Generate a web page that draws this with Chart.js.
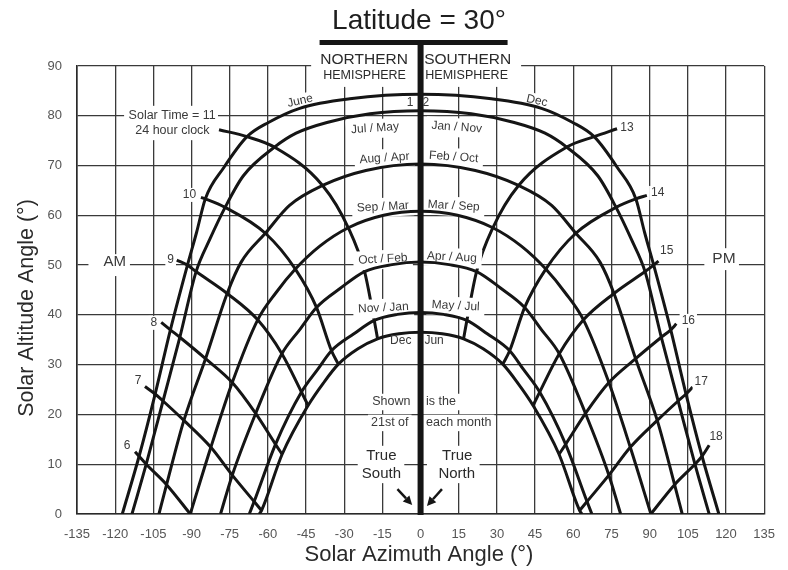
<!DOCTYPE html>
<html>
<head>
<meta charset="utf-8">
<script src="https://cdn.jsdelivr.net/npm/chart.js@4/dist/chart.umd.min.js"></script>
<style>
  html, body { margin: 0; padding: 0; background: #fff; }
  #wrap { width: 788px; height: 570px; position: relative; }
</style>
</head>
<body>
<div id="wrap"><canvas id="c"></canvas></div>
<script>
// Sun path diagram, latitude 30°, 21st day of each month.
// Azimuth in degrees from true south (negative = morning / east), altitude in degrees.

const titleText = 'Latitude = 30°';
const xTitle = 'Solar Azimuth Angle (°)';
const yTitle = 'Solar Altitude Angle (°)';

// ---- month paths (sunrise -> noon -> sunset) ----
const juneAz  = [-117.2, -110.6, -104.3, -98.3, -91.6, -88.0, -84.6, -77.3, -68.2, -59.6, -47.5, -27.8, 0, 27.8, 47.5, 59.6, 68.2, 77.3, 84.6, 88.0, 91.6, 98.3, 104.3, 110.6, 117.2];
const juneAlt = [0, 11.6, 24.1, 37.0, 50.0, 56.6, 63.3, 69.6, 75.8, 78.7, 81.5, 83.4, 84.3, 83.4, 81.5, 78.7, 75.8, 69.6, 63.3, 56.6, 50.0, 37.0, 24.1, 11.6, 0];

const julMayAz  = [-113.4, -107.8, -101.2, -94.6, -88.2, -82.8, -76.8, -69.7, -57.4, -48.9, -36.4, -19.9, 0, 19.9, 36.4, 48.9, 57.4, 69.7, 76.8, 82.8, 88.2, 94.6, 101.2, 107.8, 113.4];
const julMayAlt = [0, 10.0, 22.7, 35.5, 48.7, 55.2, 61.6, 67.9, 73.7, 76.5, 78.7, 80.4, 81.0, 80.4, 78.7, 76.5, 73.7, 67.9, 61.6, 55.2, 48.7, 35.5, 22.7, 10.0, 0];

const augAprAz  = [-102.8, -99.8, -93.0, -84.5, -76.0, -70.5, -61.0, -51.5, -38.5, -21.5, 0, 21.5, 38.5, 51.5, 61.0, 70.5, 76.0, 84.5, 93.0, 99.8, 102.8];
const augAprAlt = [0, 5.9, 18.8, 31.2, 44.3, 50.6, 56.4, 62.0, 66.0, 69.0, 70.3, 69.0, 66.0, 62.0, 56.4, 50.6, 44.3, 31.2, 18.8, 5.9, 0];

const sepMarAz  = [-90.5, -82.4, -74.0, -64.0, -56.9, -49.2, -39.6, -28.4, -14.5, 0, 14.5, 28.4, 39.6, 49.2, 56.9, 64.0, 74.0, 82.4, 90.5];
const sepMarAlt = [0, 13.4, 26.4, 39.0, 44.4, 49.2, 53.8, 57.5, 60.0, 60.8, 60.0, 57.5, 53.8, 49.2, 44.4, 39.0, 26.4, 13.4, 0];

const octFebAz  = [-78.6, -74.0, -64.8, -54.5, -47.4, -40.9, -31.4, -22.0, -11.2, 0, 11.2, 22.0, 31.4, 40.9, 47.4, 54.5, 64.8, 74.0, 78.6];
const octFebAlt = [0, 7.8, 20.2, 32.2, 37.1, 41.5, 45.4, 48.7, 50.1, 50.6, 50.1, 48.7, 45.4, 41.5, 37.1, 32.2, 20.2, 7.8, 0];

const novJanAz  = [-67.3, -65.4, -57.0, -46.8, -40.5, -35.0, -26.2, -18.2, -9.1, 0, 9.1, 18.2, 26.2, 35.0, 40.5, 46.8, 57.0, 65.4, 67.3];
const novJanAlt = [0, 2.5, 14.0, 24.5, 29.0, 32.8, 36.2, 38.9, 40.1, 40.5, 40.1, 38.9, 36.2, 32.8, 29.0, 24.5, 14.0, 2.5, 0];

const decAz  = [-63.4, -62.5, -54.4, -44.2, -38.2, -32.3, -24.6, -16.9, -8.5, 0, 8.5, 16.9, 24.6, 32.3, 38.2, 44.2, 54.4, 62.5, 63.4];
const decAlt = [0, 0.7, 12.0, 21.8, 26.3, 30.1, 33.2, 35.2, 36.2, 36.5, 36.2, 35.2, 33.2, 30.1, 26.3, 21.8, 12.0, 0.7, 0];

// ---- solar-time hour lines (from the numbered end through June ... December) ----
const h6Az  = [-112.2, -110.6, -107.8, -99.8, -90.5];
const h6Alt = [12.5, 11.6, 10.0, 5.9, 0];
const h7Az  = [-108.3, -104.3, -101.2, -93.0, -82.4, -74.0, -65.4, -62.5];
const h7Alt = [25.6, 24.1, 22.7, 18.8, 13.4, 7.8, 2.5, 0.7];
const h8Az  = [-101.9, -98.3, -94.6, -84.5, -74.0, -64.8, -57.0, -54.4];
const h8Alt = [38.5, 37.0, 35.5, 31.2, 26.4, 20.2, 14.0, 12.0];
const h9Az  = [-95.8, -91.6, -88.2, -76.0, -64.0, -54.5, -46.8, -44.2];
const h9Alt = [51.0, 50.0, 48.7, 44.3, 39.0, 32.2, 24.5, 21.8];
const h10Az  = [-86.3, -84.6, -76.8, -61.0, -49.2, -40.9, -35.0, -32.3];
const h10Alt = [63.6, 63.3, 61.6, 56.4, 49.2, 41.5, 32.8, 30.1];
const h11Az  = [-79.2, -68.2, -57.4, -38.5, -28.4, -22.0, -18.2, -16.9];
const h11Alt = [77.2, 75.8, 73.7, 66.0, 57.5, 48.7, 38.9, 35.2];
const h13Az  = [16.9, 18.2, 22.0, 28.4, 38.5, 57.4, 68.2, 77.2];
const h13Alt = [35.2, 38.9, 48.7, 57.5, 66.0, 73.7, 75.8, 77.4];
const h14Az  = [32.3, 35.0, 40.9, 49.2, 61.0, 76.8, 84.6, 88.9];
const h14Alt = [30.1, 32.8, 41.5, 49.2, 56.4, 61.6, 63.3, 64.0];
const h15Az  = [44.2, 46.8, 54.5, 64.0, 76.0, 88.2, 91.6, 93.5];
const h15Alt = [21.8, 24.5, 32.2, 39.0, 44.3, 48.7, 50.0, 50.8];
const h16Az  = [54.4, 57.0, 64.8, 74.0, 84.5, 94.6, 98.3, 100.5];
const h16Alt = [12.0, 14.0, 20.2, 26.4, 31.2, 35.5, 37.0, 38.2];
const h17Az  = [62.5, 65.4, 74.0, 82.4, 93.0, 101.2, 104.3, 106.9];
const h17Alt = [0.7, 2.5, 7.8, 13.4, 18.8, 22.7, 24.1, 25.5];
const h18Az  = [90.5, 99.8, 107.8, 110.6, 113.4];
const h18Alt = [0, 5.9, 10.0, 11.6, 13.8];

// axis ticks
const xTicks = [-135, -120, -105, -90, -75, -60, -45, -30, -15, 0, 15, 30, 45, 60, 75, 90, 105, 120, 135];
const yTicks = [0, 10, 20, 30, 40, 50, 60, 70, 80, 90];

const monthSeries = [
  { name: 'June', az: juneAz, alt: juneAlt },
  { name: 'Jul / May', az: julMayAz, alt: julMayAlt },
  { name: 'Aug / Apr', az: augAprAz, alt: augAprAlt },
  { name: 'Sep / Mar', az: sepMarAz, alt: sepMarAlt },
  { name: 'Oct / Feb', az: octFebAz, alt: octFebAlt },
  { name: 'Nov / Jan', az: novJanAz, alt: novJanAlt },
  { name: 'Dec', az: decAz, alt: decAlt }
];
const hourSeries = [
  { name: '6', az: h6Az, alt: h6Alt },   { name: '7', az: h7Az, alt: h7Alt },
  { name: '8', az: h8Az, alt: h8Alt },   { name: '9', az: h9Az, alt: h9Alt },
  { name: '10', az: h10Az, alt: h10Alt }, { name: '11', az: h11Az, alt: h11Alt },
  { name: '13', az: h13Az, alt: h13Alt }, { name: '14', az: h14Az, alt: h14Alt },
  { name: '15', az: h15Az, alt: h15Alt }, { name: '16', az: h16Az, alt: h16Alt },
  { name: '17', az: h17Az, alt: h17Alt }, { name: '18', az: h18Az, alt: h18Alt }
];

const FONT = '"Liberation Sans", Arial, Helvetica, sans-serif';
const INK = '#151515';

function toPoints(az, alt) { return az.map((a, i) => ({ x: a, y: alt[i] })); }

const curveStyle = {
  showLine: true, pointRadius: 0, pointHoverRadius: 0,
  borderColor: INK, borderWidth: 3, borderCapStyle: 'butt', borderJoinStyle: 'round',
  cubicInterpolationMode: 'monotone', capBezierPoints: false, fill: false
};

// month curves first (drawn last, on top), hour lines after
const datasets = [
  ...monthSeries.map(s => Object.assign({ label: s.name, data: toPoints(s.az, s.alt) }, curveStyle)),
  ...hourSeries.map(s => Object.assign({ label: s.name, data: toPoints(s.az, s.alt) }, curveStyle))
];

// white patches that hide the grid behind text blocks: [azFrom, azTo, altFrom, altTo]
const masks = [
  [-43.0, 39.5, 85.8, 92.0],     // hemisphere heading
  [-116.5, -79.6, 75.1, 82.0],   // solar time note
  [-130.5, -114.2, 47.8, 52.2],  // AM
  [111.5, 125.1, 49.0, 53.4],    // PM
  [-24.7, -6.4, 6.2, 13.7],      // True South
  [2.5, 23.2, 6.2, 13.7]         // True North
];

const MP = [5, 5, 3, 4];
const GREY = '#3a3a3a';
// text annotations: t text, x azimuth, y altitude, s font px, r rotation deg, pad box padding
const notes = [
  { t: 'NORTHERN', x: -22.2, y: 91.2, s: 15.5, c: '#2a2a2a' },
  { t: 'HEMISPHERE', x: -22.0, y: 88.0, s: 12.5, c: '#2a2a2a' },
  { t: 'SOUTHERN', x: 18.5, y: 91.2, s: 15.5, c: '#2a2a2a' },
  { t: 'HEMISPHERE', x: 18.1, y: 88.0, s: 12.5, c: '#2a2a2a' },
  { t: 'June', x: -47.3, y: 83.0, s: 12, r: -13, pad: [2, 2, 1, 1] },
  { t: 'Dec', x: 45.7, y: 83.0, s: 12, r: 13, pad: [2, 2, 1, 1] },
  { t: '1', x: -4.1, y: 82.6, s: 12 },
  { t: '2', x: 2.1, y: 82.6, s: 12 },
  { t: 'Jul / May', x: -17.9, y: 77.5, s: 12, r: -4, pad: MP },
  { t: 'Jan / Nov', x: 14.2, y: 77.7, s: 12, r: 4, pad: MP },
  { t: 'Aug / Apr', x: -14.2, y: 71.5, s: 12, r: -4, pad: MP },
  { t: 'Feb / Oct', x: 13.0, y: 71.7, s: 12, r: 4, pad: MP },
  { t: 'Sep / Mar', x: -14.8, y: 61.7, s: 12, r: -3, pad: MP },
  { t: 'Mar / Sep', x: 13.0, y: 61.9, s: 12, r: 3, pad: MP },
  { t: 'Oct / Feb', x: -14.8, y: 51.2, s: 12, r: -3, pad: MP },
  { t: 'Apr / Aug', x: 12.3, y: 51.6, s: 12, r: 3, pad: MP },
  { t: 'Nov / Jan', x: -14.6, y: 41.4, s: 12, r: -3, pad: MP },
  { t: 'May / Jul', x: 13.8, y: 41.8, s: 12, r: 3, pad: MP },
  { t: 'Dec', x: -7.8, y: 34.8, s: 12, pad: [3, 3, 2, 2] },
  { t: 'Jun', x: 5.3, y: 34.8, s: 12, pad: [3, 3, 2, 2] },
  { t: 'Solar Time = 11', x: -97.6, y: 80.0, s: 12.5 },
  { t: '24 hour clock', x: -97.5, y: 77.0, s: 12.5 },
  { t: '10', x: -90.8, y: 64.1, s: 12, pad: [2, 2, 1, 1] },
  { t: '9', x: -98.2, y: 51.0, s: 12, pad: [2, 2, 1, 1] },
  { t: '8', x: -104.8, y: 38.4, s: 12, pad: [2, 2, 1, 1] },
  { t: '7', x: -111.0, y: 26.7, s: 12, pad: [2, 2, 1, 1] },
  { t: '6', x: -115.3, y: 13.7, s: 12, pad: [2, 2, 1, 1] },
  { t: '13', x: 81.1, y: 77.7, s: 12, pad: [2, 2, 1, 1] },
  { t: '14', x: 93.2, y: 64.5, s: 12, pad: [2, 2, 1, 1] },
  { t: '15', x: 96.7, y: 52.8, s: 12, pad: [2, 2, 1, 1] },
  { t: '16', x: 105.2, y: 38.8, s: 12, pad: [2, 2, 1, 1] },
  { t: '17', x: 110.3, y: 26.5, s: 12, pad: [2, 2, 1, 1] },
  { t: '18', x: 116.1, y: 15.5, s: 12, pad: [2, 2, 1, 1] },
  { t: 'AM', x: -120.2, y: 50.6, s: 15 },
  { t: 'PM', x: 119.2, y: 51.2, s: 15.5 },
  { t: 'Shown', x: -11.5, y: 22.5, s: 12.5, pad: [3, 3, 2, 2] },
  { t: 'is the', x: 8.0, y: 22.5, s: 12.5, pad: [3, 6, 2, 2] },
  { t: '21st of', x: -12.1, y: 18.3, s: 12.5, pad: [3, 3, 2, 2] },
  { t: 'each month', x: 15.0, y: 18.3, s: 12.5, pad: [3, 3, 2, 2] },
  { t: 'True', x: -15.4, y: 11.7, s: 15, c: '#2a2a2a' },
  { t: 'South', x: -15.4, y: 8.0, s: 15, c: '#2a2a2a' },
  { t: 'True', x: 14.4, y: 11.7, s: 15, c: '#2a2a2a' },
  { t: 'North', x: 14.2, y: 8.0, s: 15, c: '#2a2a2a' }
];

// arrows pointing at the noon line: [fromAz, fromAlt, toAz, toAlt]
const arrows = [
  [-9.1, 5.0, -3.3, 1.8],
  [8.4, 5.0, 2.5, 1.6]
];

function px(chart, az, alt) {
  return [chart.scales.x.getPixelForValue(az), chart.scales.y.getPixelForValue(alt)];
}

function drawMasks(chart) {
  const ctx = chart.ctx;
  ctx.save();
  ctx.fillStyle = '#ffffff';
  masks.forEach(m => {
    const [x0, y0] = px(chart, m[0], m[3]);
    const [x1, y1] = px(chart, m[1], m[2]);
    ctx.fillRect(x0, y0, x1 - x0, y1 - y0);
  });
  notes.forEach(n => {
    if (!n.pad) return;
    const [x, y] = px(chart, n.x, n.y);
    ctx.save();
    ctx.font = n.s + 'px ' + FONT;
    const w = ctx.measureText(n.t).width;
    ctx.translate(x, y);
    ctx.rotate((n.r || 0) * Math.PI / 180);
    const p = n.pad;
    ctx.fillRect(-w / 2 - p[0], -n.s / 2 - p[2], w + p[0] + p[1], n.s + p[2] + p[3]);
    ctx.restore();
  });
  ctx.restore();
}

function drawNoonLine(chart) {
  const ctx = chart.ctx;
  const cx = chart.scales.x.getPixelForValue(0);
  ctx.save();
  ctx.fillStyle = INK;
  // heading bar and the solar noon line below it
  ctx.fillRect(cx - 101, 40, 188, 5);
  ctx.fillRect(cx - 3, 42, 6, chart.chartArea.bottom - 42 + 1);
  ctx.restore();
}

function drawNotes(chart) {
  const ctx = chart.ctx;
  ctx.save();
  ctx.textAlign = 'center';
  ctx.textBaseline = 'middle';
  notes.forEach(n => {
    const [x, y] = px(chart, n.x, n.y);
    ctx.save();
    ctx.font = n.s + 'px ' + FONT;
    ctx.fillStyle = n.c || GREY;
    ctx.translate(x, y);
    ctx.rotate((n.r || 0) * Math.PI / 180);
    ctx.fillText(n.t, 0, 0);
    ctx.restore();
  });
  ctx.restore();
}

function drawArrows(chart) {
  const ctx = chart.ctx;
  ctx.save();
  ctx.strokeStyle = INK;
  ctx.fillStyle = INK;
  ctx.lineWidth = 2.4;
  arrows.forEach(a => {
    const [x0, y0] = px(chart, a[0], a[1]);
    const [x1, y1] = px(chart, a[2], a[3]);
    const ang = Math.atan2(y1 - y0, x1 - x0);
    const L = 9, W = 4.5;
    const bx = x1 - L * Math.cos(ang), by = y1 - L * Math.sin(ang);
    ctx.beginPath();
    ctx.moveTo(x0, y0);
    ctx.lineTo(bx, by);
    ctx.stroke();
    ctx.beginPath();
    ctx.moveTo(x1, y1);
    ctx.lineTo(bx + W * Math.sin(ang), by - W * Math.cos(ang));
    ctx.lineTo(bx - W * Math.sin(ang), by + W * Math.cos(ang));
    ctx.closePath();
    ctx.fill();
  });
  ctx.restore();
}

function drawTitles(chart) {
  const ctx = chart.ctx;
  ctx.save();
  ctx.fillStyle = '#1e1e1e';
  ctx.textAlign = 'center';
  ctx.textBaseline = 'alphabetic';
  ctx.font = '28px ' + FONT;
  ctx.fillText(titleText, 419, 29);
  ctx.fillStyle = '#2a2a2a';
  ctx.textBaseline = 'middle';
  ctx.font = '22px ' + FONT;
  ctx.fillText(xTitle, 419, 555);
  ctx.translate(27.5, 308);
  ctx.rotate(-Math.PI / 2);
  ctx.font = '21.5px ' + FONT;
  ctx.fillText(yTitle, 0, 0);
  ctx.restore();
}

const decor = {
  id: 'sunPathDecor',
  beforeDraw(chart) {
    const ctx = chart.ctx;
    ctx.save();
    ctx.fillStyle = '#ffffff';
    ctx.fillRect(0, 0, chart.width, chart.height);
    ctx.restore();
  },
  beforeDatasetDraw(chart, args) {
    // the hour lines are already down; blank the label areas before the month curves go on
    if (args.index === monthSeries.length - 1) drawMasks(chart);
  },
  afterDatasetsDraw(chart) {
    drawNoonLine(chart);
    drawNotes(chart);
    drawArrows(chart);
    drawTitles(chart);
  }
};

const gridStyle = { color: '#3a3a3a', lineWidth: 1.3, drawTicks: false };

new Chart(document.getElementById('c'), {
  type: 'scatter',
  data: { datasets },
  options: {
    responsive: true,
    maintainAspectRatio: false,
    animation: false,
    devicePixelRatio: 1,
    layout: { padding: { left: 0, right: 17, top: 66, bottom: 0 } },
    plugins: { legend: { display: false }, tooltip: { enabled: false }, title: { display: false } },
    events: [],
    scales: {
      x: {
        type: 'linear', min: xTicks[0], max: xTicks[xTicks.length - 1],
        afterBuildTicks: s => { s.ticks = xTicks.map(v => ({ value: v })); },
        afterFit: s => { s.height = 56; },
        grid: gridStyle,
        border: { display: true, color: '#2a2a2a', width: 1.6 },
        ticks: { padding: 13, color: '#555', font: { family: FONT, size: 13 }, maxRotation: 0, autoSkip: false }
      },
      y: {
        type: 'linear', min: yTicks[0], max: yTicks[yTicks.length - 1],
        afterBuildTicks: s => { s.ticks = yTicks.map(v => ({ value: v })); },
        afterFit: s => { s.width = 77; },
        grid: gridStyle,
        border: { display: true, color: '#2a2a2a', width: 1.6 },
        ticks: { padding: 15, color: '#555', font: { family: FONT, size: 13 }, autoSkip: false }
      }
    }
  },
  plugins: [decor]
});
</script>
</body>
</html>
